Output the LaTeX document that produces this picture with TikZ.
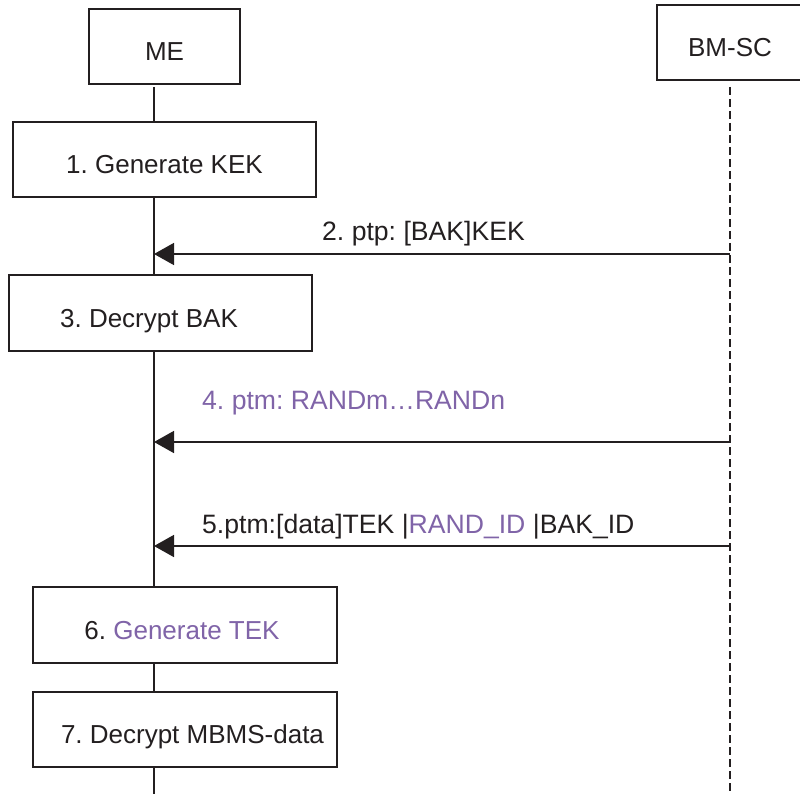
\documentclass[tikz,border=0pt]{standalone}
\usepackage{fontspec}
\setmainfont{Liberation Sans}
\usetikzlibrary{arrows.meta}
\frenchspacing
\definecolor{ink}{RGB}{35,31,32}
\definecolor{lilac}{RGB}{128,100,168}
\tikzset{
  entity/.style={draw=ink, line width=1.6pt, fill=white, rectangle, inner sep=0pt, text height=28pt, text depth=0pt, font=\fontsize{26}{30}\selectfont, text=ink},
  stepbox/.style={draw=ink, line width=1.6pt, fill=white, rectangle, inner sep=0pt, text height=28pt, text depth=0pt, font=\fontsize{26}{30}\selectfont, text=ink},
  life/.style={draw=ink, line width=1.6pt},
  dlife/.style={draw=ink, line width=1.6pt, dash pattern=on 8pt off 4pt},
  msg/.style={draw=ink, line width=1.6pt, -{Triangle[length=20pt,width=22pt]}},
  msglabel/.style={anchor=base west, inner sep=0pt, font=\fontsize{26.6}{30}\selectfont, text=ink},
}
\begin{document}
\begin{tikzpicture}[x=1pt,y=-1pt]
\useasboundingbox (0,0) rectangle (800,794);
% lifelines
\coordinate (meTop) at (154,87);
\coordinate (meBot) at (154,794);
\coordinate (bmTop) at (730,87);
\coordinate (bmBot) at (730,794);
\draw[life] (meTop) -- (meBot);
\draw[dlife] (bmTop) -- (bmBot);
% entities
\node[entity, minimum width=151pt, minimum height=75pt] (ME) at (164.5,46.5) {ME};
\node[entity, minimum width=146pt, minimum height=75pt] (BM) at (730,42.5) {BM-SC};
% steps
\node[stepbox, minimum width=303pt, minimum height=75pt] (s1) at (164.5,159.5) {1. Generate KEK};
\node[stepbox, minimum width=303pt, minimum height=76pt] (s3) at (160.5,313) {3. Decrypt BAK\hspace*{23pt}};
\node[stepbox, minimum width=304pt, minimum height=76pt] (s6) at (185,625) {6. \textcolor{lilac}{Generate TEK}\hspace*{6pt}};
\node[stepbox, minimum width=304pt, minimum height=75pt] (s7) at (185,729.5) {\hspace*{15pt}7. Decrypt MBMS-data};
% messages
\coordinate (m2s) at (730,254);
\coordinate (m2e) at (154,254);
\coordinate (m4s) at (730,442);
\coordinate (m4e) at (154,442);
\coordinate (m5s) at (730,546);
\coordinate (m5e) at (154,546);
\draw[msg] (m2s) -- (m2e);
\draw[msg] (m4s) -- (m4e);
\draw[msg] (m5s) -- (m5e);
\node[msglabel] (l2) at (322,241) {2. ptp: [BAK]KEK};
\node[msglabel, text=lilac] (l4) at (202,409) {4. ptm: RANDm\ldots RANDn};
\node[msglabel] (l5) at (202,533) {5.ptm:[data]TEK |\textcolor{lilac}{RAND\_ID} |BAK\_ID};
\end{tikzpicture}
\end{document}
